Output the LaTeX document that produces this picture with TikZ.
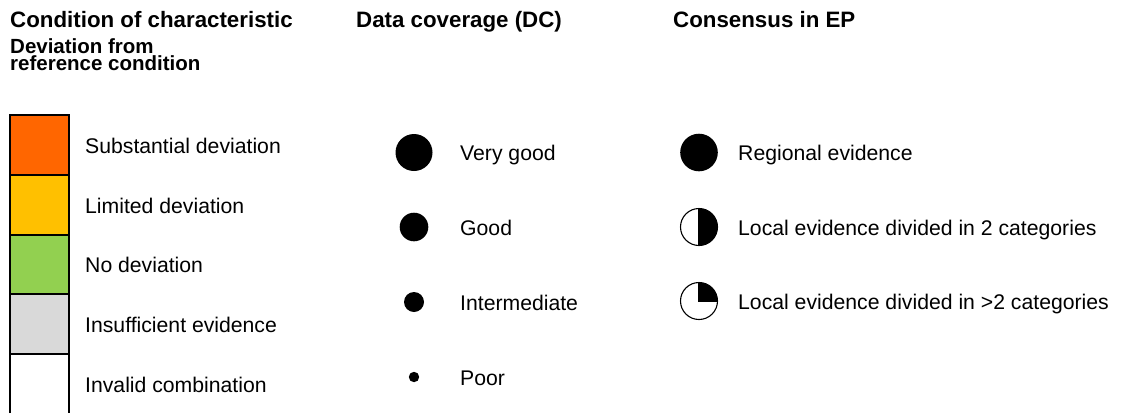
\documentclass[tikz,border=0pt]{standalone}
\usepackage{fontspec}
\setmainfont{Liberation Sans}
\definecolor{cSub}{HTML}{FF6600}
\definecolor{cLim}{HTML}{FFC000}
\definecolor{cNo}{HTML}{92D050}
\definecolor{cIns}{HTML}{D9D9D9}
\begin{document}
\begin{tikzpicture}[x=1pt,y=-1pt,
  head/.style={anchor=base west,inner sep=0pt,font=\fontsize{22.3}{26}\selectfont\bfseries},
  subhead/.style={anchor=base west,inner sep=0pt,align=left,font=\fontsize{20.5}{17.5}\selectfont\bfseries},
  lbl/.style={anchor=base west,inner sep=0pt,font=\fontsize{21.2}{25}\selectfont},
  cell/.style={draw=black,line width=1.2pt},
  dot/.style={fill=black,draw=none},
  ring/.style={draw=black,line width=1.1pt}]
\useasboundingbox (0,0) rectangle (1128,413);
% headings
\node[head] (h1) at (10,27) {Condition of characteristic};
\node[subhead] (h2) at (10,70.5) {Deviation from\\reference condition};
\node[head] (h3) at (356,27) {Data coverage (DC)};
\node[head] (h4) at (673,27) {Consensus in EP};
% colour boxes
\fill[cSub] (10,115) rectangle (69,175);
\fill[cLim] (10,175) rectangle (69,235);
\fill[cNo] (10,235) rectangle (69,294);
\fill[cIns] (10,294) rectangle (69,354);
\draw[cell] (10,115) rectangle (69,175);
\draw[cell] (10,175) rectangle (69,235);
\draw[cell] (10,235) rectangle (69,294);
\draw[cell] (10,294) rectangle (69,354);
\draw[cell] (10,413) -- (10,354) -- (69,354) -- (69,413);
\node[lbl] (l1) at (85,153) {Substantial deviation};
\node[lbl] (l2) at (85,213) {Limited deviation};
\node[lbl] (l3) at (85,272.5) {No deviation};
\node[lbl] (l4) at (85,332) {Insufficient evidence};
\node[lbl] (l5) at (85,392) {Invalid combination};
% data coverage
\fill[dot] (414,152.5) circle[radius=18.5];
\fill[dot] (414,227) circle[radius=14.3];
\fill[dot] (414,302) circle[radius=10];
\fill[dot] (414,377) circle[radius=5.2];
\node[lbl] (d1) at (460,160.5) {Very good};
\node[lbl] (d2) at (460,235) {Good};
\node[lbl] (d3) at (460,310) {Intermediate};
\node[lbl] (d4) at (460,385) {Poor};
% consensus
\fill[dot] (699,152.5) circle[radius=18.8];
\begin{scope}
  \clip (699,205) rectangle (722,249);
  \fill[black] (699,227) circle[radius=18.5];
\end{scope}
\draw[ring] (699,227) circle[radius=18.5];
\draw[ring] (699,208.5) -- (699,245.5);
\begin{scope}
  \clip (699,279) rectangle (722,301);
  \fill[black] (699,301) circle[radius=18.5];
\end{scope}
\draw[ring] (699,301) circle[radius=18.5];
\draw[ring] (699,282.5) -- (699,301) -- (717.5,301);
\node[lbl] (e1) at (738,160.5) {Regional evidence};
\node[lbl] (e2) at (738,235) {Local evidence divided in 2 categories};
\node[lbl] (e3) at (738,309) {Local evidence divided in >2 categories};
\end{tikzpicture}
\end{document}
